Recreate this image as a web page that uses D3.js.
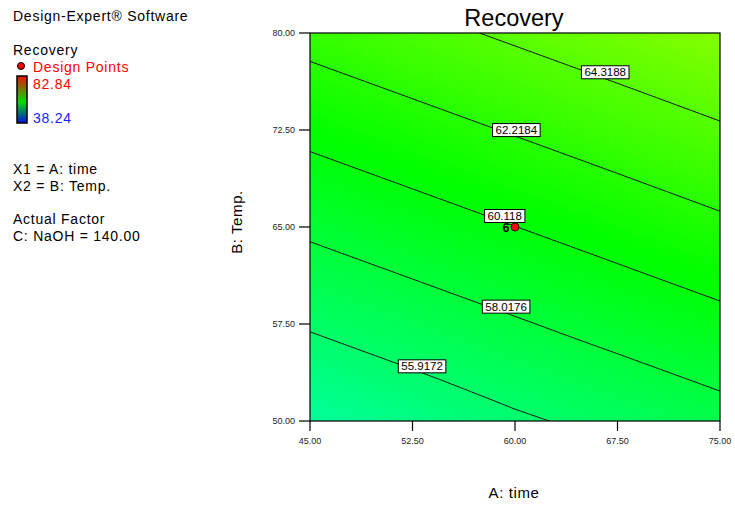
<!DOCTYPE html>
<html>
<head>
<meta charset="utf-8">
<script src="https://cdn.jsdelivr.net/npm/d3@7/dist/d3.min.js"></script>
<style>
  html, body { margin: 0; padding: 0; background: #fff; }
  svg { display: block; font-family: "Liberation Sans", Arial, sans-serif; }
</style>
</head>
<body>
<svg id="chart" width="735" height="509"></svg>
<script>
// Factor settings (A: time, B: Temp.) at the tick positions
const timeTicks = [45, 52.5, 60, 67.5, 75];
const tempTicks = [50, 57.5, 65, 72.5, 80];
const tickLabels = ["45.00", "52.50", "60.00", "67.50", "75.00"];
const tempTickLabels = ["50.00", "57.50", "65.00", "72.50", "80.00"];

// Predicted Recovery at each (time, temp) grid node; rows follow tempTicks
const recoveryRows = [
  [53.84, 54.71, 55.65, 56.45, 57.32],
  [56.10, 56.97, 57.84, 58.71, 59.58],
  [58.36, 59.23, 60.10, 60.97, 61.85],
  [60.62, 61.49, 62.36, 63.23, 64.11],
  [62.88, 63.75, 64.62, 65.49, 66.37]
];

// Contour levels and the time at which each level's label sits
const contourLevels = [55.9172, 58.0176, 60.118, 62.2184, 64.3188];
const contourLabels = ["55.9172", "58.0176", "60.118", "62.2184", "64.3188"];
const labelTimes = [53.2, 59.35, 59.25, 60.1, 66.6];

// Design points (centre point replicated 6 times)
const designTimes = [60];
const designTemps = [65];
const designCounts = [6];

// Response range for the colour legend
const responseMin = 38.24;
const responseMax = 82.84;

const svg = d3.select("#chart");
const x = d3.scaleLinear().domain([45, 75]).range([310, 720]);
const y = d3.scaleLinear().domain([50, 80]).range([421, 33]);

// Blue -> green -> red hue ramp used for the surface
function surfaceColor(v) {
  const t = Math.max(0, Math.min(1, (v - responseMin) / (responseMax - responseMin)));
  return d3.hsl(240 - 240 * t, 1, 0.5).toString();
}

// Bilinear lookup into the grid of predictions
const ix = d3.scaleLinear().domain(timeTicks).range(d3.range(timeTicks.length)).clamp(true);
const iy = d3.scaleLinear().domain(tempTicks).range(d3.range(tempTicks.length)).clamp(true);
function recoveryAt(a, b) {
  const fx = ix(a), fy = iy(b);
  const i0 = Math.min(Math.floor(fx), timeTicks.length - 2), j0 = Math.min(Math.floor(fy), tempTicks.length - 2);
  const tx = fx - i0, ty = fy - j0;
  const v00 = recoveryRows[j0][i0], v10 = recoveryRows[j0][i0 + 1];
  const v01 = recoveryRows[j0 + 1][i0], v11 = recoveryRows[j0 + 1][i0 + 1];
  return (v00 * (1 - tx) + v10 * tx) * (1 - ty) + (v01 * (1 - tx) + v11 * tx) * ty;
}

// Sample the surface on a fine raster for d3.contours
const n = 121;
const values = new Array(n * n);
for (let j = 0; j < n; j++) {
  const b = 80 - j / (n - 1) * 30;
  for (let i = 0; i < n; i++) {
    const a = 45 + i / (n - 1) * 30;
    values[j * n + i] = recoveryAt(a, b);
  }
}
const gridToScreen = d3.geoTransform({
  point: function (gx, gy) {
    const a = 45 + (gx - 0.5) / (n - 1) * 30;
    const b = 80 - (gy - 0.5) / (n - 1) * 30;
    this.stream.point(x(a), y(b));
  }
});
const path = d3.geoPath(gridToScreen);

svg.append("clipPath").attr("id", "plotClip")
  .append("rect").attr("x", 310).attr("y", 33).attr("width", 410).attr("height", 388);

const plot = svg.append("g").attr("clip-path", "url(#plotClip)");

// Filled surface: stacked bands of increasing response
const lo = d3.min(values), hi = d3.max(values);
const bandThresholds = d3.range(Math.floor(lo * 10) / 10 - 0.1, hi + 0.1, 0.08);
const bands = d3.contours().size([n, n]).thresholds(bandThresholds)(values);
plot.append("g").selectAll("path").data(bands).join("path")
  .attr("d", path)
  .attr("fill", d => surfaceColor(d.value + 0.04))
  .attr("stroke", d => surfaceColor(d.value + 0.04))
  .attr("stroke-width", 0.6);

// Contour lines
const lines = d3.contours().size([n, n]).thresholds(contourLevels)(values);
plot.append("g").selectAll("path").data(lines).join("path")
  .attr("d", path)
  .attr("fill", "none")
  .attr("stroke", "#111")
  .attr("stroke-width", 1);

// Plot frame
svg.append("rect").attr("x", 310).attr("y", 33).attr("width", 410).attr("height", 388)
  .attr("fill", "none").attr("stroke", "#000").attr("stroke-width", 1.2);

// Contour labels
function tempOnLevel(a, level) {
  let b0 = 50, b1 = 80;
  for (let k = 0; k < 40; k++) {
    const m = (b0 + b1) / 2;
    if (recoveryAt(a, m) < level) b0 = m; else b1 = m;
  }
  return (b0 + b1) / 2;
}
const labelG = svg.append("g");
contourLevels.forEach((lvl, k) => {
  const a = labelTimes[k];
  const px = x(a), py = y(tempOnLevel(a, lvl)) - 6.5;
  const g = labelG.append("g");
  const t = g.append("text").attr("x", px).attr("y", py + 4)
    .attr("text-anchor", "middle").attr("font-size", 11.5).attr("fill", "#000")
    .text(contourLabels[k]);
  const w = t.node().getComputedTextLength();
  g.insert("rect", "text")
    .attr("x", px - w / 2 - 3).attr("y", py - 6.5)
    .attr("width", w + 6).attr("height", 13)
    .attr("fill", "#fff").attr("stroke", "#000").attr("stroke-width", 1);
});

// Design points
designTimes.forEach((a, k) => {
  svg.append("text").attr("x", x(a) - 5.5).attr("y", y(designTemps[k]) + 5)
    .attr("text-anchor", "end").attr("font-size", 12.5).attr("font-weight", "bold")
    .attr("fill", "#000").text(designCounts[k]);
  svg.append("circle").attr("cx", x(a)).attr("cy", y(designTemps[k])).attr("r", 4)
    .attr("fill", "#ff0000").attr("stroke", "#300").attr("stroke-width", 1);
});

// Axes
const xAxis = svg.append("g").attr("transform", "translate(0,421)");
xAxis.selectAll("line").data(timeTicks).join("line")
  .attr("x1", d => x(d)).attr("x2", d => x(d)).attr("y1", 0).attr("y2", 10)
  .attr("stroke", "#000").attr("stroke-width", 1.2);
xAxis.selectAll("text").data(timeTicks).join("text")
  .attr("x", d => x(d)).attr("y", 23).attr("text-anchor", "middle")
  .attr("font-size", 9).attr("fill", "#222").text((d, i) => tickLabels[i]);

const yAxis = svg.append("g").attr("transform", "translate(310,0)");
yAxis.selectAll("line").data(tempTicks).join("line")
  .attr("x1", -11).attr("x2", 0).attr("y1", d => y(d)).attr("y2", d => y(d))
  .attr("stroke", "#000").attr("stroke-width", 1.2);
yAxis.selectAll("text").data(tempTicks).join("text")
  .attr("x", -15).attr("y", d => y(d) + 3).attr("text-anchor", "end")
  .attr("font-size", 9).attr("fill", "#222").text((d, i) => tempTickLabels[i]);

// Titles
svg.append("text").attr("x", 514).attr("y", 26).attr("text-anchor", "middle")
  .attr("font-size", 23.5).attr("fill", "#000").text("Recovery");
svg.append("text").attr("x", 514).attr("y", 498).attr("text-anchor", "middle")
  .attr("font-size", 15).attr("letter-spacing", 0.6).attr("fill", "#000").text("A: time");
svg.append("text").attr("transform", "translate(242,222) rotate(-90)")
  .attr("text-anchor", "middle").attr("font-size", 15).attr("letter-spacing", 0.6)
  .attr("fill", "#000").text("B: Temp.");

// Side legend
const leg = svg.append("g").attr("font-size", 14).attr("letter-spacing", 0.75);
leg.append("text").attr("x", 13).attr("y", 21).attr("fill", "#000").text("Design-Expert® Software");
leg.append("text").attr("x", 13).attr("y", 55).attr("fill", "#000").text("Recovery");
leg.append("circle").attr("cx", 21).attr("cy", 66).attr("r", 3.5)
  .attr("fill", "#ff0000").attr("stroke", "#000").attr("stroke-width", 1);
leg.append("text").attr("x", 33).attr("y", 72).attr("fill", "#ff0000").text("Design Points");

const grad = svg.append("defs").append("linearGradient").attr("id", "legendRamp")
  .attr("x1", 0).attr("y1", 0).attr("x2", 0).attr("y2", 1);
grad.append("stop").attr("offset", "0%").attr("stop-color", "#f01000");
grad.append("stop").attr("offset", "55%").attr("stop-color", "#00e000");
grad.append("stop").attr("offset", "100%").attr("stop-color", "#0010e0");
leg.append("rect").attr("x", 17).attr("y", 76).attr("width", 10).attr("height", 47)
  .attr("fill", "url(#legendRamp)").attr("stroke", "#000").attr("stroke-width", 1.5);
leg.append("text").attr("x", 33).attr("y", 89).attr("fill", "#ff0000").text(responseMax.toFixed(2));
leg.append("text").attr("x", 33).attr("y", 123).attr("fill", "#2020ff").text(responseMin.toFixed(2));

leg.append("text").attr("x", 13).attr("y", 174).attr("fill", "#000").text("X1 = A: time");
leg.append("text").attr("x", 13).attr("y", 191).attr("fill", "#000").text("X2 = B: Temp.");
leg.append("text").attr("x", 13).attr("y", 224).attr("fill", "#000").text("Actual Factor");
leg.append("text").attr("x", 13).attr("y", 241).attr("fill", "#000").text("C: NaOH = 140.00");
</script>
</body>
</html>
